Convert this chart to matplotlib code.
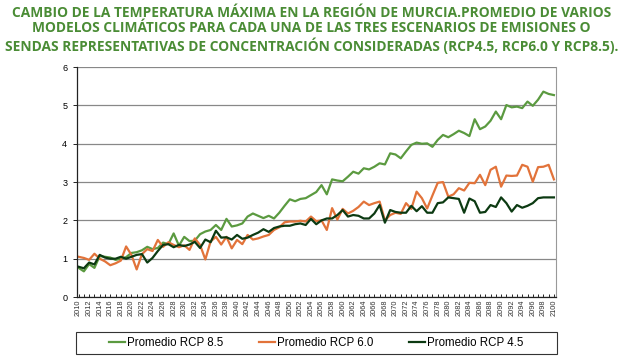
import matplotlib
matplotlib.use("Agg")
import matplotlib.pyplot as plt
from matplotlib.patches import Rectangle

years = list(range(2010, 2101))

rcp85 = [0.76, 0.67, 0.86, 0.76, 1.07, 1.05, 1.03, 0.97, 1.00, 1.04,
         1.15, 1.17, 1.22, 1.31, 1.25, 1.28, 1.42, 1.38, 1.66, 1.34,
         1.57, 1.46, 1.47, 1.64, 1.71, 1.75, 1.88, 1.75, 2.04, 1.84,
         1.87, 1.92, 2.10, 2.18, 2.12, 2.06, 2.12, 2.05, 2.20, 2.38,
         2.55, 2.50, 2.56, 2.58, 2.66, 2.74, 2.92, 2.68, 3.07, 3.04,
         3.02, 3.14, 3.27, 3.22, 3.36, 3.33, 3.40, 3.49, 3.46, 3.75,
         3.72, 3.62, 3.80, 3.97, 4.03, 4.00, 4.01, 3.92, 4.10, 4.23,
         4.17, 4.25, 4.34, 4.28, 4.20, 4.64, 4.38, 4.45, 4.60, 4.84,
         4.64, 5.01, 4.95, 4.97, 4.93, 5.10, 4.99, 5.15, 5.36, 5.30,
         5.27]

rcp60 = [1.05, 1.02, 0.97, 1.13, 1.00, 0.93, 0.83, 0.88, 0.95, 1.32,
         1.10, 0.72, 1.12, 1.25, 1.20, 1.49, 1.31, 1.43, 1.36, 1.30,
         1.35, 1.23, 1.53, 1.36, 0.98, 1.45, 1.57, 1.37, 1.57, 1.27,
         1.49, 1.38, 1.62, 1.50, 1.53, 1.58, 1.62, 1.75, 1.82, 1.95,
         1.97, 1.97, 1.99, 1.97, 2.10, 1.98, 2.00, 1.75, 2.32, 2.02,
         2.30, 2.18, 2.25, 2.35, 2.49, 2.40, 2.45, 2.49, 2.00, 2.14,
         2.20, 2.17, 2.45, 2.30, 2.75, 2.58, 2.31, 2.65, 2.98, 3.00,
         2.62, 2.68, 2.84, 2.78, 2.98, 2.97, 3.19, 2.92, 3.32, 3.40,
         2.88, 3.17, 3.16, 3.17, 3.45, 3.40, 3.01, 3.39, 3.40, 3.45,
         3.07]

rcp45 = [0.79, 0.75, 0.90, 0.85, 1.10, 1.03, 1.00, 1.00, 1.05, 1.00,
         1.05, 1.10, 1.12, 0.90, 1.02, 1.20, 1.36, 1.38, 1.30, 1.36,
         1.33, 1.37, 1.44, 1.28, 1.50, 1.43, 1.73, 1.55, 1.56, 1.50,
         1.62, 1.52, 1.55, 1.62, 1.68, 1.77, 1.70, 1.80, 1.84, 1.86,
         1.86, 1.90, 1.92, 1.88, 2.04, 1.90, 2.00, 2.05, 2.05, 2.14,
         2.27, 2.10, 2.14, 2.12, 2.05, 2.05, 2.18, 2.40, 1.94, 2.27,
         2.22, 2.20, 2.20, 2.38, 2.24, 2.37, 2.20, 2.20, 2.45, 2.47,
         2.60, 2.58, 2.56, 2.20, 2.57, 2.50, 2.20, 2.22, 2.40, 2.35,
         2.60, 2.45, 2.23, 2.40, 2.33, 2.38, 2.45, 2.58, 2.60, 2.60,
         2.60]

series_labels = ["Promedio RCP 8.5", "Promedio RCP 6.0", "Promedio RCP 4.5"]
title = ("CAMBIO DE LA TEMPERATURA MÁXIMA EN LA REGIÓN DE MURCIA.PROMEDIO DE VARIOS\n"
         "MODELOS CLIMÁTICOS PARA CADA UNA DE LAS TRES ESCENARIOS DE EMISIONES O\n"
         "SENDAS REPRESENTATIVAS DE CONCENTRACIÓN CONSIDERADAS (RCP4.5, RCP6.0 Y RCP8.5).")
yticks = [0, 1, 2, 3, 4, 5, 6]
xtick_years = list(range(2010, 2101, 2))

colors = ["#5b9a40", "#e2733a", "#0c3a12"]

plt.rcParams['font.family'] = ['Liberation Sans', 'DejaVu Sans']

fig = plt.figure(figsize=(6.23, 3.57), dpi=100)
fig.patch.set_facecolor("white")

fig.text(0.5, 0.984, title, ha="center", va="top", fontsize=9.9,
         fontweight="bold", color="#4a8c35", family=["Open Sans", "DejaVu Sans"],
         linespacing=1.15)

ax = fig.add_axes([0.1236, 0.168, 0.7689, 0.644])
lines = []
for vals, c, lab in zip([rcp85, rcp60, rcp45], colors, series_labels):
    l, = ax.plot(years, vals, color=c, lw=1.6, label=lab)
    lines.append(l)

ax.set_ylim(0, 6)
ax.set_xlim(2009.7, 2100.4)
ax.set_yticks(yticks)
ax.set_yticklabels([str(v) for v in yticks], fontsize=6.5)
ax.set_xticks(xtick_years)
ax.set_xticklabels([str(y) for y in xtick_years], rotation=90, fontsize=5.3, color="#333333")
ax.set_xticks(years, minor=True)
ax.tick_params(axis="x", which="both", direction="in", length=2.5, width=0.6, pad=2)
ax.tick_params(axis="y", length=3, width=0.6, pad=4)
ax.grid(axis="y", color="#888888", lw=0.9)
ax.set_axisbelow(True)
for s in ["left", "bottom"]:
    ax.spines[s].set_color("#222222")
    ax.spines[s].set_linewidth(0.9)
ax.spines["right"].set_color("#999999")
ax.spines["top"].set_visible(False)

# legend box
fig.patches.append(Rectangle((76 / 623, 1 - 354 / 357), (557 - 76) / 623, 22 / 357,
                             transform=fig.transFigure, fill=False,
                             edgecolor="#333333", lw=0.8))
leg = fig.legend(handles=lines, loc="center", ncol=3,
                 bbox_to_anchor=(316 / 623, 1 - 343 / 357),
                 fontsize=8.3, handlelength=1.4, handletextpad=0.15,
                 columnspacing=3.1, frameon=False, borderaxespad=0)

fig.savefig("out.png", dpi=100)
